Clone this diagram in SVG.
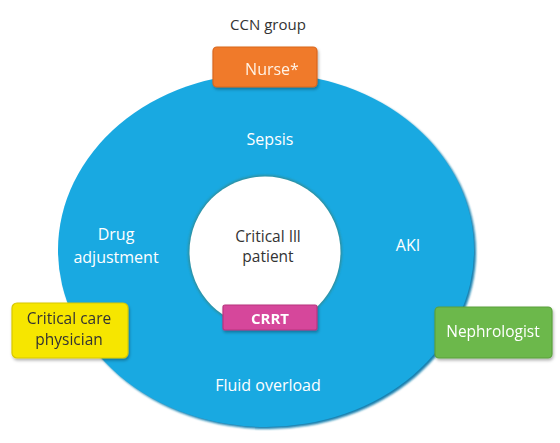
<svg xmlns="http://www.w3.org/2000/svg" width="560" height="443" viewBox="0 0 560 443">
  <defs>
    <filter id="shadow" x="-20%" y="-20%" width="140%" height="150%">
      <feDropShadow dx="1" dy="2" stdDeviation="1.5" flood-color="#000" flood-opacity="0.3"/>
    </filter>
    <filter id="blur1"><feGaussianBlur stdDeviation="1"/></filter>
  </defs>
  <style>
    text { font-family: "Open Sans", "Noto Sans", "DejaVu Sans", sans-serif; text-anchor: middle; }
    .w { fill: #ffffff; font-size: 16px; }
    .d { fill: #333333; font-size: 15.5px; }
    .box { stroke-width: 1.2; }
  </style>
  <rect width="560" height="443" fill="#ffffff"/>

  <g id="ring">
    <ellipse cx="268" cy="252" rx="208" ry="177" fill="#137fae" filter="url(#blur1)"/>
    <ellipse cx="266" cy="250" rx="208" ry="177" fill="#19a9e1"/>
  </g>
  <g id="patient">
    <circle cx="265" cy="252" r="77" fill="#2e8f9e" filter="url(#blur1)"/>
    <circle cx="265" cy="252" r="75.5" fill="#ffffff"/>
    <text class="d" x="268" y="242">Critical Ill</text>
    <text class="d" x="268" y="262">patient</text>
  </g>

  <g id="title"><text class="d" x="268" y="30" style="font-size:15px">CCN group</text></g>
  <g id="sepsis"><text class="w" x="270" y="145">Sepsis</text></g>
  <g id="drug"><text class="w" x="116" y="240">Drug</text><text class="w" x="116" y="263">adjustment</text></g>
  <g id="aki"><text class="w" x="408" y="251">AKI</text></g>
  <g id="fluid"><text class="w" x="268" y="391">Fluid overload</text></g>

  <g id="nurse" filter="url(#shadow)">
    <rect class="box" x="213" y="47" width="104" height="40" rx="4" fill="#f07a2a" stroke="#d9661c"/>
    <text x="272" y="75" style="fill:#fff3e6;font-size:16px;">Nurse*</text>
  </g>
  <g id="physician" filter="url(#shadow)">
    <rect class="box" x="12" y="303" width="116" height="55" rx="5" fill="#f6e600" stroke="#d8c800"/>
    <text class="d" x="69" y="324" style="font-size:15.5px">Critical care</text>
    <text class="d" x="69" y="345" style="font-size:15.5px">physician</text>
  </g>
  <g id="nephrologist" filter="url(#shadow)">
    <rect class="box" x="435" y="307" width="117" height="51" rx="4" fill="#6cb84b" stroke="#5aa03c"/>
    <text class="w" x="493" y="337" style="font-size:15.5px">Nephrologist</text>
  </g>
  <g id="crrt" filter="url(#shadow)">
    <rect class="box" x="223" y="305" width="94" height="25" rx="2" fill="#d6479b" stroke="#b8357f"/>
    <text x="270" y="324" style="fill:#ffffff;font-size:15px;font-weight:bold;">CRRT</text>
  </g>
  <g id="connectors"/>
</svg>
